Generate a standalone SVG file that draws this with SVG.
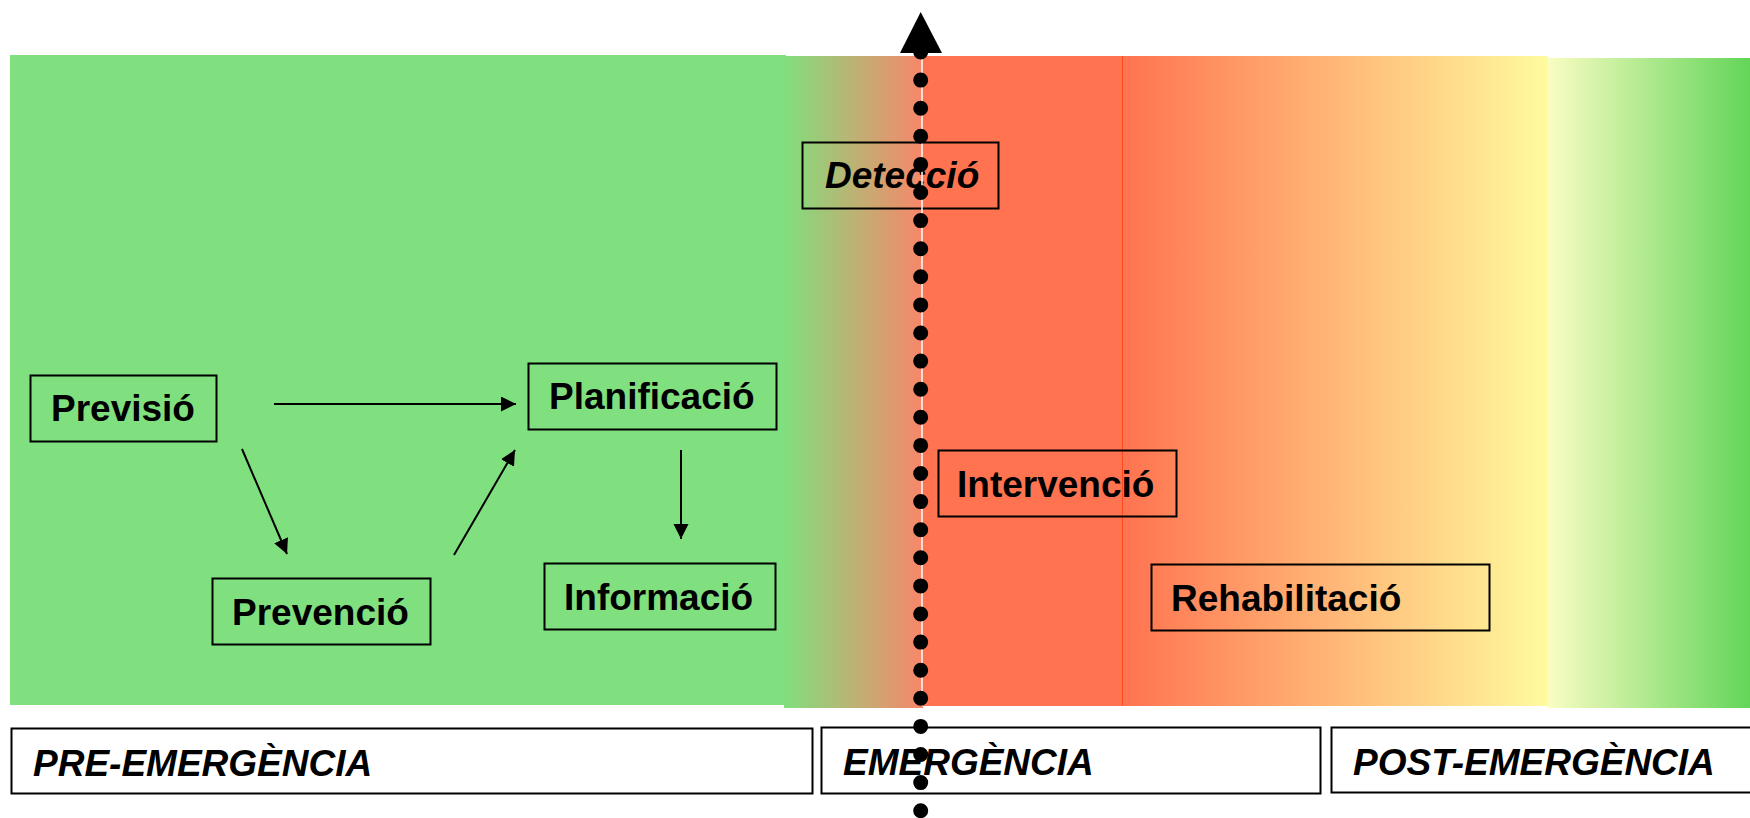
<svg xmlns="http://www.w3.org/2000/svg" width="1750" height="818" viewBox="0 0 1750 818">
<style>
.box{fill:none;stroke:#000;stroke-width:2}
.lbl{font-family:"Liberation Sans",Arial,sans-serif;font-weight:bold;font-size:37px;fill:#000}
.it{font-style:italic}
.conn{stroke:#000;stroke-width:2;fill:none;marker-end:url(#ah)}
</style>
<defs>
<marker id="ah" markerUnits="userSpaceOnUse" markerWidth="16" markerHeight="16" refX="15" refY="7.5" orient="auto" viewBox="0 0 16 16">
<path d="M0,0 L15,7.5 L0,15 z" fill="#000"/>
</marker>
<linearGradient id="gGR" x1="0" x2="1" y1="0" y2="0">
<stop offset="0" stop-color="#80DF7E"/>
<stop offset="1" stop-color="#F8866A"/>
</linearGradient>
<linearGradient id="gRY" x1="0" x2="1" y1="0" y2="0">
<stop offset="0" stop-color="#FF7350"/>
<stop offset="1" stop-color="#FFFB9E"/>
</linearGradient>
<linearGradient id="gYG" x1="0" x2="1" y1="0" y2="0">
<stop offset="0" stop-color="#FAFDC2"/>
<stop offset="1" stop-color="#62D558"/>
</linearGradient>
</defs>
<rect width="1750" height="818" fill="#fff"/>
<g id="background">
<rect x="10" y="55" width="776" height="650" fill="#80DF7E"/>
<rect x="784" y="56" width="139" height="652" fill="url(#gGR)"/>
<rect x="922" y="56" width="201" height="650" fill="#FF7350"/>
<rect x="1122" y="56" width="426" height="650" fill="url(#gRY)"/>
<rect x="1547.5" y="58" width="203" height="650" fill="url(#gYG)"/>
<line x1="1122.5" y1="56" x2="1122.5" y2="706" stroke="#FF4A1E" stroke-width="1"/>
</g>
<g id="connectors">
<line class="conn" x1="274" y1="404" x2="516" y2="404"/>
<line class="conn" x1="242" y1="449" x2="287" y2="554"/>
<line class="conn" x1="454" y1="555" x2="515" y2="450"/>
<line class="conn" x1="681" y1="450" x2="681" y2="539"/>
</g>
<g id="prevision"><rect class="box" x="30.5" y="375.5" width="186" height="66"/><text class="lbl" x="51" y="421">Previsió</text></g>
<g id="planificacion"><rect class="box" x="528.5" y="363.5" width="248" height="66"/><text class="lbl" x="549" y="409">Planificació</text></g>
<g id="prevencion"><rect class="box" x="212.5" y="578.5" width="218" height="66"/><text class="lbl" x="232" y="625">Prevenció</text></g>
<g id="informacion"><rect class="box" x="544.5" y="563.5" width="231" height="66"/><text class="lbl" x="564" y="610">Informació</text></g>
<g id="deteccion"><rect class="box" x="802.5" y="142.5" width="196" height="66"/><text class="lbl it" x="825" y="188">Detecció</text></g>
<g id="intervencion"><rect class="box" x="938.5" y="450.5" width="238" height="66"/><text class="lbl" x="957" y="497">Intervenció</text></g>
<g id="rehabilitacion"><rect class="box" x="1151.5" y="564.5" width="338" height="66"/><text class="lbl" x="1171" y="611">Rehabilitació</text></g>
<g id="pre"><rect class="box" x="11.5" y="728.5" width="801" height="65"/><text class="lbl it" x="33" y="776">PRE-EMERGÈNCIA</text></g>
<g id="emergencia"><rect class="box" x="821.5" y="727.5" width="499" height="66"/><text class="lbl it" x="843" y="775">EMERGÈNCIA</text></g>
<g id="post"><rect class="box" x="1331.5" y="727.5" width="440" height="65"/><text class="lbl it" x="1353" y="775">POST-EMERGÈNCIA</text></g>
<g id="timeline">
<line x1="922" y1="56" x2="922" y2="706" stroke="#fff" stroke-width="1.5"/>
<line x1="920.7" y1="52" x2="920.7" y2="818" stroke="#000" stroke-width="15" stroke-linecap="round" stroke-dasharray="0 28.1"/>
<polygon points="920.7,12 942,53 900,53" fill="#000"/>
</g>
</svg>
